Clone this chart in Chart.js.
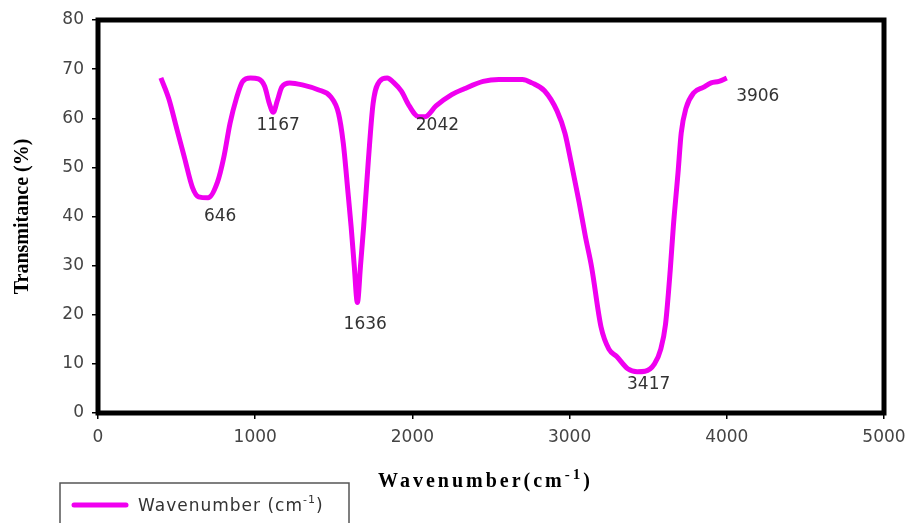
<!DOCTYPE html>
<html>
<head>
<meta charset="utf-8">
<script src="https://cdn.jsdelivr.net/npm/chart.js@4"></script>
<style>
  html, body { margin: 0; padding: 0; background: #fff; }
  #wrap { width: 908px; height: 523px; }
</style>
</head>
<body>
<div id="wrap"><canvas id="ftir"></canvas></div>
<script>
// --- data ---
const wavenumbers = [400, 450, 500, 550, 600, 640, 700, 760, 800, 840, 880, 920, 970, 1020, 1060, 1090, 1115, 1140, 1170, 1220,
  1300, 1400, 1480, 1530, 1560, 1590, 1610, 1630, 1650, 1670, 1690, 1720, 1750, 1790, 1840, 1880, 1930, 1980, 2040, 2080,
  2150, 2250, 2330, 2450, 2550, 2700, 2760, 2840, 2920, 2970, 3010, 3060, 3100, 3140, 3200, 3250, 3300, 3370, 3430, 3480,
  3540, 3580, 3610, 3640, 3660, 3690, 3710, 3740, 3790, 3850, 3900, 3950, 4000];
const transmittance = [68.2, 64, 58, 52, 46, 44, 43.8, 47, 52, 59, 64, 67.5, 68.2, 68, 66.5, 63, 61.2, 63.5, 66.4, 67.2,
  66.8, 65.8, 64.4, 61, 55, 45, 38, 30, 22.5, 30, 38, 51.5, 63, 67.5, 68.2, 67.3, 65.5, 62.5, 60.3, 60.3,
  62.5, 64.8, 66, 67.5, 67.9, 67.9, 67.2, 65.6, 61.5, 57, 51, 43, 36, 29.7, 17.5, 13, 11.5, 9, 8.4, 8.5,
  10, 13, 18, 29, 38, 49, 57, 62, 65.2, 66.3, 67.2, 67.5, 68.2];

// peak labels and where their text sits (data units)
const peakLabels = ['646', '1167', '1636', '2042', '3417', '3906'];
const peakLabelX = [777, 1146, 1700, 2159, 3503, 4197];
const peakLabelY = [39.9, 58.5, 18.1, 58.5, 5.7, 64.4];

const xTicks = [0, 1000, 2000, 3000, 4000, 5000];

const lineColor = '#f000f0';

// text with a small raised "-1" in the middle
function drawSupText(ctx, before, sup, after, x, y, font, supFont) {
  ctx.font = font;
  ctx.fillText(before, x, y);
  x += ctx.measureText(before).width;
  ctx.font = supFont;
  ctx.fillText(sup, x, y - 8);
  x += ctx.measureText(sup).width;
  ctx.font = font;
  ctx.fillText(after, x, y);
}

// --- peak annotations, heavy frame, x title and boxed legend ---
const extrasPlugin = {
  id: 'extras',
  afterDatasetsDraw(chart) {
    const { ctx, chartArea: a, scales: { x, y } } = chart;
    ctx.save();
    ctx.fillStyle = '#333';
    ctx.font = '17px "DejaVu Sans"';
    ctx.textAlign = 'center';
    ctx.textBaseline = 'middle';
    peakLabels.forEach((t, i) => {
      ctx.fillText(t, x.getPixelForValue(peakLabelX[i]), y.getPixelForValue(peakLabelY[i]));
    });

    // thick frame round the plot
    ctx.strokeStyle = '#000';
    ctx.lineWidth = 5;
    ctx.strokeRect(a.left, a.top, a.right - a.left, a.bottom - a.top);

    // x axis title, letter spaced, with superscript
    ctx.textAlign = 'left';
    ctx.textBaseline = 'alphabetic';
    ctx.fillStyle = '#000';
    ctx.letterSpacing = '3px';
    drawSupText(ctx, 'Wavenumber(cm', '-1', ')', 378, 487,
      'bold 20px "Liberation Serif"', 'bold 15px "Liberation Serif"');
    ctx.letterSpacing = '0px';

    // legend box
    const ds = chart.data.datasets[0];
    ctx.lineWidth = 1.5;
    ctx.strokeStyle = '#555';
    ctx.strokeRect(60, 483, 289, 60);
    ctx.strokeStyle = lineColor;
    ctx.lineWidth = 5;
    ctx.lineCap = 'round';
    ctx.beginPath();
    ctx.moveTo(74, 505);
    ctx.lineTo(126, 505);
    ctx.stroke();
    ctx.fillStyle = '#333';
    ctx.letterSpacing = '1px';
    drawSupText(ctx, ds.label + ' (cm', '-1', ')', 138, 511,
      '17px "DejaVu Sans"', '11px "DejaVu Sans"');
    ctx.restore();
  }
};

new Chart(document.getElementById('ftir').getContext('2d'), {
  type: 'line',
  data: {
    datasets: [{
      label: 'Wavenumber',
      data: wavenumbers.map((w, i) => ({ x: w, y: transmittance[i] })),
      borderColor: lineColor,
      borderWidth: 5,
      pointRadius: 0,
      tension: 0.4,
      cubicInterpolationMode: 'monotone',
      fill: false
    }]
  },
  options: {
    responsive: true,
    maintainAspectRatio: false,
    animation: false,
    layout: { padding: { left: 0, right: 24, top: 20, bottom: 0 } },
    plugins: { legend: { display: false }, tooltip: { enabled: false } },
    scales: {
      x: {
        type: 'linear',
        min: 0, max: 5000,
        afterFit: (s) => { s.height = 110; s.paddingLeft = 0; s.paddingRight = 0; },
        afterBuildTicks: (s) => { s.ticks = xTicks.map(v => ({ value: v })); },
        grid: { drawOnChartArea: false, tickLength: 6, color: '#000', lineWidth: 1.5 },
        border: { display: false },
        ticks: {
          color: '#444', font: { family: 'DejaVu Sans', size: 17 }, padding: 8, maxRotation: 0,
          callback: (v) => String(v)
        }
      },
      y: {
        min: 0, max: 80,
        afterFit: (s) => { s.width = 98; s.paddingTop = 0; s.paddingBottom = 0; },
        grid: { drawOnChartArea: false, tickLength: 6, color: '#000', lineWidth: 1.5 },
        border: { display: false },
        ticks: { stepSize: 10, color: '#444', font: { family: 'DejaVu Sans', size: 17 }, padding: 8 },
        title: {
          display: true,
          text: 'Transmitance (%)',
          color: '#000',
          font: { family: 'Liberation Serif', size: 20, weight: 'bold' },
          padding: { top: 11, bottom: 0 }
        }
      }
    }
  },
  plugins: [extrasPlugin]
});
</script>
</body>
</html>
